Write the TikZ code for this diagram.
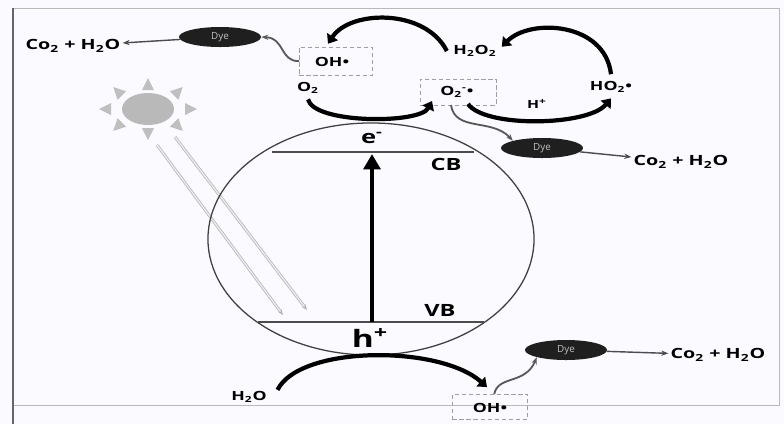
\documentclass[tikz,border=0pt]{standalone}
\usepackage{fontspec}
\setmainfont{Open Sans}
\usetikzlibrary{arrows.meta,positioning,calc,shapes.geometric}
\newcommand{\chsub}[1]{\textsubscript{#1}}

\begin{document}
\begin{tikzpicture}[
    x=0.025cm, y=-0.025cm,
    lbl/.style={font=\bfseries\fontsize{10}{12}\selectfont, xscale=1.4, inner sep=1pt},
    small/.style={font=\bfseries\fontsize{9}{11}\selectfont, xscale=1.4, inner sep=1pt},
    band/.style={font=\bfseries\fontsize{12}{14}\selectfont, xscale=1.4, inner sep=1pt},
    dye/.style={ellipse, fill=black!88, minimum width=2.05cm, minimum height=0.5cm,
                inner sep=0pt, text=gray!50, font=\fontsize{7}{8}\selectfont},
    radbox/.style={draw=gray!75, densely dashed, minimum width=1.9cm, minimum height=0.65cm},
    bigarr/.style={line width=3pt, -{Triangle[length=6pt, width=9pt]}},
    wavy/.style={gray!70!black, line width=1.3pt, -{Stealth[length=5pt]}},
    thinarr/.style={gray!60!black, line width=1pt, -{Stealth[length=5pt]}},
    ray/.style={draw=gray!60, double=gray!15, double distance=1pt, line width=0.5pt,
                -{Stealth[length=4pt]}}
  ]
  \useasboundingbox (0,0) rectangle (784,424);
  \fill[blue!2] (0,0) rectangle (784,424);
  \draw[gray!55, line width=0.6pt] (13,8) rectangle (779,405);
  \draw[black!60, line width=0.8pt] (13,8) -- (13,424);

  % Sun and incoming light
  \node[ellipse, fill=gray!55, minimum width=1.3cm, minimum height=0.8cm] (sun) at (148,109) {};
  \foreach \a in {0,45,...,315}{
    \path (sun.center) ++({43*cos(\a)},{-25*sin(\a)}) coordinate (r\a);
    \fill[gray!50, rotate around={\a:(r\a)}] ($(r\a)+(-6,-6)$) -- ($(r\a)+(6,0)$) -- ($(r\a)+(-6,6)$) -- cycle;
  }
  \draw[ray] (157,145) -- (283,315);
  \draw[ray] (175,137) -- (307,310);

  % Semiconductor particle
  \node[draw=black!75, line width=0.9pt, ellipse, minimum width=8.15cm, minimum height=5.8cm,
        inner sep=0pt] (sc) at (371,239) {};
  \draw[black!70, line width=0.8pt] (272,152) -- (474,152);
  \draw[black!70, line width=0.8pt] (258,322) -- (484,322);
  \node[band] (cb) at (446,164) {CB};
  \node[band] (vb) at (440,310) {VB};
  \node[font=\bfseries\fontsize{13}{14}\selectfont, xscale=1.4] (e) at (372,138) {e\textsuperscript{-}};
  \node[font=\bfseries\fontsize{17}{18}\selectfont, xscale=1.4] (h) at (370,338) {h\textsuperscript{+}};
  \coordinate (vbmid) at (372,322);
  \draw[line width=3.5pt, -{Triangle[length=11pt, width=12pt]}] (vbmid) -- (372,154);

  % Upper side: reduction chain
  \node[lbl] (co1) at (73,46) {Co\chsub{2} + H\chsub{2}O};
  \node[dye] (dye1) at (220,37) {Dye};
  \node[radbox, minimum width=1.83cm, minimum height=0.7cm] (ohbox) at (336,61) {};
  \node[small] (oh) at (332,62) {OH•};
  \node[small] (o2) at (308,88) {O\chsub{2}};
  \node[small] (h2o2) at (475,51) {H\chsub{2}O\chsub{2}};
  \node[small] (ho2) at (611,87) {HO\chsub{2}•};
  \node[radbox] (o2box) at (458,92) {};
  \node[small] (o2r) at (457,92) {O\chsub{2}\textsuperscript{-}•};
  \node[font=\bfseries\fontsize{8}{9}\selectfont, xscale=1.4] (hp) at (537,104) {H\textsuperscript{+}};
  \node[dye] (dye2) at (542,148) {Dye};
  \node[lbl] (co2) at (681,162) {Co\chsub{2} + H\chsub{2}O};

  \draw[bigarr] ([xshift=-3pt]h2o2.west) .. controls (425,8) and (350,10) .. ($(ohbox.north)+(-8,-3)$);
  \draw[bigarr] ([yshift=4pt]ho2.north) .. controls (605,22) and (530,18) .. ([xshift=2pt, yshift=3pt]h2o2.east);
  \draw[bigarr] ([yshift=-3pt]o2.south) .. controls (314,124) and (420,124) .. (432,101);
  \draw[bigarr] (468,104) .. controls (485,128) and (588,126) .. ([yshift=-3pt]ho2.south);

  \draw[wavy] (ohbox.west) .. controls (280,62) and (285,38) .. (dye1.east);
  \draw[wavy] (451,105) .. controls (455,132) and (492,118) .. (dye2.north west);
  \draw[thinarr] (dye1) -- (co1);
  \draw[thinarr] (dye2) -- (co2);

  % Lower side: oxidation by holes
  \node[small] (h2o) at (249,397) {H\chsub{2}O};
  \node[radbox, minimum width=1.88cm, minimum height=0.63cm] (ohbox2) at (490,407) {};
  \node[small] (oh2) at (490,408) {OH•};
  \node[dye] (dye3) at (566,350) {Dye};
  \node[lbl] (co3) at (718,355) {Co\chsub{2} + H\chsub{2}O};

  \draw[bigarr] ([xshift=6pt]h2o.north east) .. controls (300,345) and (440,345) .. ($(ohbox2.north)+(-3,-7)$);
  \draw[wavy] ([xshift=3pt]ohbox2.north) .. controls (498,375) and (525,385) .. (dye3.south west);
  \draw[thinarr] (dye3) -- (co3);
\end{tikzpicture}
\end{document}
